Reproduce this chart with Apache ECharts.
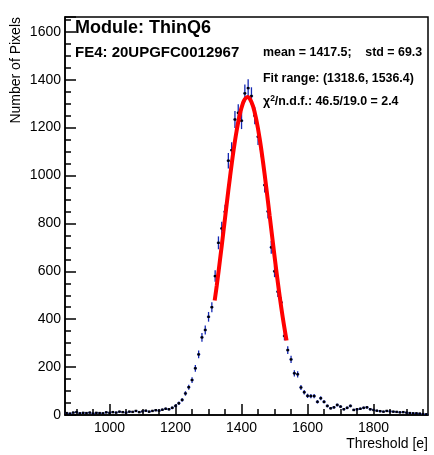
<!DOCTYPE html>
<html><head><meta charset="utf-8">
<script src="https://cdn.jsdelivr.net/npm/echarts@6/dist/echarts.min.js"></script>
<style>html,body{margin:0;padding:0;background:#fff}#c{width:434px;height:455px}</style>
</head><body><div id="c"></div>
<script>
// Histogram bin centers (bin width 10 e)
const binCenters = [
  870, 880, 890, 900, 910, 920, 930, 940, 950, 960,
  970, 980, 990, 1000, 1010, 1020, 1030, 1040, 1050, 1060,
  1070, 1080, 1090, 1100, 1110, 1120, 1130, 1140, 1150, 1160,
  1170, 1180, 1190, 1200, 1210, 1220, 1230, 1240, 1250, 1260,
  1270, 1280, 1290, 1300, 1310, 1320, 1330, 1340, 1350, 1360,
  1370, 1380, 1390, 1400, 1410, 1420, 1430, 1440, 1450, 1460,
  1470, 1480, 1490, 1500, 1510, 1520, 1530, 1540, 1550, 1560,
  1570, 1580, 1590, 1600, 1610, 1620, 1630, 1640, 1650, 1660,
  1670, 1680, 1690, 1700, 1710, 1720, 1730, 1740, 1750, 1760,
  1770, 1780, 1790, 1800, 1810, 1820, 1830, 1840, 1850, 1860,
  1870, 1880, 1890, 1900, 1910, 1920, 1930, 1940, 1950, 1960
];
// Number of pixels per bin
const counts = [
  8, 6, 10, 12, 7, 9, 8, 10, 6, 9,
  8, 7, 11, 9, 12, 10, 14, 12, 10, 14,
  13, 17, 12, 15, 18, 14, 17, 20, 18, 22,
  26, 24, 30, 38, 49, 63, 90, 116, 146, 195,
  253, 324, 355, 410, 450, 580, 719, 779, 849, 1062,
  1106, 1234, 1262, 1229, 1343, 1365, 1332, 1250, 1162, 1110,
  960, 850, 700, 600, 515, 470, 330, 271, 232, 174,
  170, 115, 95, 80, 79, 79, 55, 70, 55, 38,
  28, 32, 42, 35, 24, 30, 38, 21, 24, 26,
  30, 32, 24, 21, 18, 16, 14, 17, 15, 14,
  13, 11, 12, 10, 8, 7, 7, 6, 4, 3
];
// Gaussian fit curve
const fitX = [1318.6, 1325, 1335, 1345, 1355, 1365, 1375, 1385, 1395, 1405, 1410, 1418,
  1425, 1435, 1445, 1455, 1465, 1475, 1485, 1495, 1505, 1515, 1525, 1536.4];
const fitY = [478, 542, 651, 765, 881, 993, 1097, 1186, 1257, 1305, 1319, 1328,
  1321, 1289, 1231, 1153, 1057, 949, 834, 719, 607, 501, 406, 311];
const xMajorTicks = [1000, 1200, 1400, 1600, 1800];
const xMinorTicks = [900, 950, 1050, 1100, 1150, 1250, 1300, 1350, 1450, 1500, 1550, 1650, 1700, 1750, 1850, 1900, 1950];
const binWidth = 10;

const FONT = '"Liberation Sans", Arial, Helvetica, sans-serif';
const chart = echarts.init(document.getElementById('c'), null, {renderer: 'canvas'});

const histData = binCenters.map((c, i) => [c, counts[i], Math.sqrt(counts[i])]);
const fitData = fitX.map((x, i) => [x, fitY[i]]);

const option = {
  animation: false,
  backgroundColor: '#fff',
  grid: {left: 65, right: 6, top: 17, bottom: 40, show: true, borderColor: '#000', borderWidth: 1.5, backgroundColor: 'transparent'},
  xAxis: [{
    type: 'value', min: 865, max: 1965,
    axisLine: {show: true, lineStyle: {color: '#000', width: 1.5}},
    axisTick: {show: true, inside: true, length: 11, customValues: xMajorTicks, lineStyle: {color: '#000', width: 1.5}},
    axisLabel: {show: true, customValues: xMajorTicks, color: '#000', fontFamily: FONT, fontSize: 14, margin: 6,
      formatter: v => String(v)},
    splitLine: {show: false},
    name: 'Threshold [e]', nameLocation: 'end', nameGap: 0,
    nameTextStyle: {color: '#000', fontFamily: FONT, fontSize: 14, align: 'right', verticalAlign: 'top', padding: [22, 0, 0, 0]}
  }, {
    type: 'value', min: 865, max: 1965, position: 'bottom',
    axisLine: {show: false},
    axisTick: {show: true, inside: true, length: 6, customValues: xMinorTicks, lineStyle: {color: '#000', width: 1.5}},
    axisLabel: {show: false},
    splitLine: {show: false}
  }],
  yAxis: {
    type: 'value', min: 0, max: 1662, interval: 200,
    axisLine: {show: true, lineStyle: {color: '#000', width: 1.5}},
    axisTick: {show: true, inside: true, length: 11, lineStyle: {color: '#000', width: 1.5}},
    minorTick: {show: true, splitNumber: 4, length: 6, lineStyle: {color: '#000', width: 1.5}},
    axisLabel: {color: '#000', fontFamily: FONT, fontSize: 14, margin: 4,
      formatter: v => (v % 200 === 0 && v <= 1600) ? String(v) : ''},
    splitLine: {show: false},
    name: 'Number of Pixels', nameLocation: 'end', nameRotate: 90, nameGap: 0,
    nameTextStyle: {color: '#000', fontFamily: FONT, fontSize: 14, align: 'right', verticalAlign: 'bottom', padding: [0, 0, 42, 0]}
  },
  series: [{
    type: 'custom',
    xAxisIndex: 0, yAxisIndex: 0,
    data: histData,
    z: 2,
    renderItem: function (params, api) {
      const x = api.value(0), y = api.value(1), e = api.value(2);
      const pL = api.coord([x - binWidth / 2, y]);
      const pR = api.coord([x + binWidth / 2, y]);
      const pT = api.coord([x, y + e]);
      const pB = api.coord([x, y - e]);
      const pc = api.coord([x, y]);
      const blue = '#1428b4';
      return {
        type: 'group',
        children: [
          {type: 'line', shape: {x1: pL[0], y1: pL[1], x2: pR[0], y2: pR[1]}, style: {stroke: blue, lineWidth: 1.3}},
          {type: 'line', shape: {x1: pT[0], y1: pT[1], x2: pB[0], y2: pB[1]}, style: {stroke: blue, lineWidth: 1.3}},
          {type: 'rect', shape: {x: pc[0] - 1.2, y: pc[1] - 1.2, width: 2.4, height: 2.4}, style: {fill: '#000'}}
        ]
      };
    }
  }, {
    type: 'line',
    xAxisIndex: 0, yAxisIndex: 0,
    data: fitData,
    smooth: 0.4,
    showSymbol: false,
    z: 3,
    lineStyle: {color: '#ff0000', width: 4}
  }],
  graphic: [
    {type: 'text', left: 75, top: 19, style: {text: 'Module: ThinQ6', font: 'bold 18px ' + FONT, fill: '#000'}},
    {type: 'text', left: 75, top: 45, style: {text: 'FE4: 20UPGFC0012967', font: 'bold 15px ' + FONT, fill: '#000'}},
    {type: 'text', left: 263, top: 47, style: {text: 'mean = 1417.5;    std = 69.3', font: 'bold 12.4px ' + FONT, fill: '#000'}},
    {type: 'text', left: 263, top: 73, style: {text: 'Fit range: (1318.6, 1536.4)', font: 'bold 12.4px ' + FONT, fill: '#000'}},
    {type: 'text', left: 263, top: 94, style: {rich: {
        a: {font: 'bold 12.4px ' + FONT, fill: '#000'},
        s: {font: 'bold 8.5px ' + FONT, fill: '#000', verticalAlign: 'top', padding: [0, 0, 6, 0]}
      }, text: '{a|χ}{s|2}{a|/n.d.f.: 46.5/19.0 = 2.4}'}}
  ]
};
chart.setOption(option);
</script>
</body></html>
